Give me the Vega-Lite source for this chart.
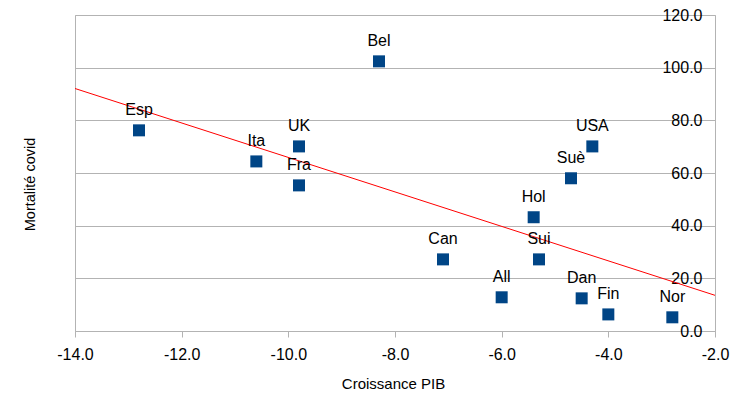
{
  "$schema": "https://vega.github.io/schema/vega-lite/v6.json",
  "width": 640,
  "height": 316,
  "autosize": {"type": "none"},
  "padding": {"left": 75, "top": 15, "right": 27, "bottom": 67},
  "background": "white",
  "config": {
    "view": {"stroke": "#b3b3b3", "strokeWidth": 1},
    "font": "Liberation Sans"
  },
  "data": {
    "values": [
      {"pays": "Esp", "x": -12.8, "y": 76.2},
      {"pays": "Ita", "x": -10.6, "y": 64.4},
      {"pays": "UK", "x": -9.8, "y": 70.1},
      {"pays": "Fra", "x": -9.8, "y": 55.3},
      {"pays": "Bel", "x": -8.3, "y": 102.4},
      {"pays": "Can", "x": -7.1, "y": 27.2},
      {"pays": "All", "x": -6.0, "y": 12.8},
      {"pays": "Hol", "x": -5.4, "y": 43.2},
      {"pays": "Sui", "x": -5.3, "y": 27.2},
      {"pays": "Suè", "x": -4.7, "y": 58.0},
      {"pays": "USA", "x": -4.3, "y": 70.1},
      {"pays": "Dan", "x": -4.5, "y": 12.4},
      {"pays": "Fin", "x": -4.0, "y": 6.3},
      {"pays": "Nor", "x": -2.8, "y": 5.2}
    ]
  },
  "encoding": {
    "x": {
      "field": "x",
      "type": "quantitative",
      "scale": {"domain": [-14, -2], "nice": false, "zero": false},
      "axis": {
        "title": "Croissance PIB",
        "values": [-14, -12, -10, -8, -6, -4, -2],
        "labelExpr": "replace(format(datum.value, '.1f'), '\u2212', '-')",
        "grid": false,
        "domainColor": "#b3b3b3",
        "tickColor": "#b3b3b3",
        "tickSize": 6,
        "labelFontSize": 16,
        "labelColor": "black",
        "labelBaseline": "alphabetic",
        "labelPadding": 22,
        "labelFlush": false,
        "titleFontSize": 15,
        "titleFontWeight": "normal",
        "titleColor": "black",
        "titleX": 318,
        "titleY": 52,
        "titleBaseline": "middle",
        "titleAlign": "center"
      }
    },
    "y": {
      "field": "y",
      "type": "quantitative",
      "scale": {"domain": [0, 120], "nice": false},
      "axis": {
        "title": "Mortalité covid",
        "values": [0, 20, 40, 60, 80, 100, 120],
        "format": ".1f",
        "grid": true,
        "gridColor": "#b3b3b3",
        "domain": false,
        "ticks": false,
        "tickSize": 0,
        "labelFontSize": 16,
        "labelColor": "black",
        "labelAlign": "right",
        "labelBaseline": "middle",
        "labelPadding": -627,
        "labelFlush": false,
        "titleFontSize": 14.5,
        "titleFontWeight": "normal",
        "titleColor": "black",
        "titleAngle": -90,
        "titleX": -45,
        "titleY": 169,
        "titleAlign": "center",
        "titleBaseline": "middle"
      }
    }
  },
  "layer": [
    {
      "transform": [{"regression": "y", "on": "x", "extent": [-14, -2]}],
      "mark": {"type": "line", "color": "#ff0000", "strokeWidth": 1, "clip": true}
    },
    {
      "mark": {"type": "point", "shape": "square", "filled": true, "size": 144, "color": "#004586", "opacity": 1}
    },
    {
      "mark": {"type": "text", "dy": -15, "baseline": "alphabetic", "align": "center", "fontSize": 16, "color": "black"},
      "encoding": {"text": {"field": "pays"}}
    }
  ]
}
